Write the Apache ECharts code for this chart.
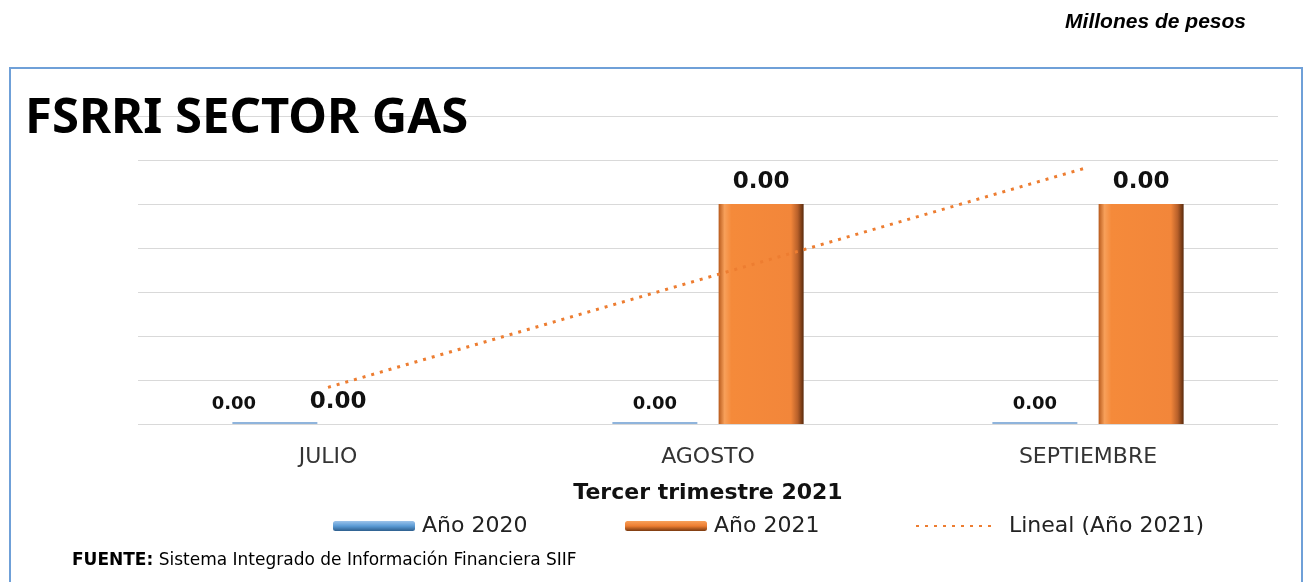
<!DOCTYPE html>
<html>
<head>
<meta charset="utf-8">
<script src="https://cdn.jsdelivr.net/npm/echarts@6/dist/echarts.min.js"></script>
<style>
  html, body { margin: 0; padding: 0; background: #fff; }
  #chart { width: 1306px; height: 582px; }
</style>
</head>
<body>
<div id="chart"></div>
<script>
  // categorias y valores (millones de pesos)
  var meses = ['JULIO', 'AGOSTO', 'SEPTIEMBRE']
  var anio2020 = [0, 0, 0]
  var anio2021 = [0, 0.004, 0.004]
  var ejeMax = 0.0056
  var ejeIntervalo = 0.0008

  // linea de tendencia lineal (minimos cuadrados) sobre Año 2021
  function tendencia(vals) {
    var n = vals.length
    var sx = 0, sy = 0, sxy = 0, sxx = 0
    for (var i = 0; i < n; i++) {
      sx += i; sy += vals[i]; sxy += i * vals[i]; sxx += i * i
    }
    var m = (n * sxy - sx * sy) / (n * sxx - sx * sx)
    var b = (sy - m * sx) / n
    var out = []
    for (var j = 0; j < n; j++) out.push(m * j + b)
    return out
  }
  var lineal2021 = tendencia(anio2021)

  // en el original las etiquetas de JULIO estan corridas a la izquierda
  function conEtiquetas(vals, corrimiento) {
    return vals.map(function(v, i) {
      if (i === 0) return { value: v, label: { offset: [corrimiento, 0] } }
      return v
    })
  }

  var barraNaranja = new echarts.graphic.LinearGradient(0, 0, 1, 0, [
    { offset: 0, color: '#B85A1C' },
    { offset: 0.07, color: '#F8A05A' },
    { offset: 0.15, color: '#F58A3A' },
    { offset: 0.85, color: '#F2863A' },
    { offset: 0.93, color: '#B8602A' },
    { offset: 1, color: '#5A2A0C' }
  ])
  var barraAzul = new echarts.graphic.LinearGradient(0, 0, 0, 1, [
    { offset: 0, color: '#9CC3EA' },
    { offset: 0.5, color: '#5B9BD5' },
    { offset: 1, color: '#2E5F8E' }
  ])
  var barraNaranjaLeyenda = new echarts.graphic.LinearGradient(0, 0, 0, 1, [
    { offset: 0, color: '#F8A05A' },
    { offset: 0.5, color: '#ED7D31' },
    { offset: 1, color: '#7A3A10' }
  ])

  var textoLeyenda = { fontSize: 22, color: '#222', fontFamily: 'DejaVu Sans', padding: [0, 0, 0, 2] }

  var chart = echarts.init(document.getElementById('chart'))
  chart.setOption({
    animation: false,
    textStyle: { fontFamily: 'DejaVu Sans' },
    graphic: [
      {
        type: 'rect',
        shape: { x: 10, y: 68, width: 1292, height: 540 },
        style: { fill: 'none', stroke: '#6FA0D8', lineWidth: 2 },
        z: 0
      },
      {
        type: 'text',
        right: 60,
        top: 12,
        style: {
          text: 'Millones de pesos',
          font: 'italic bold 21px "Liberation Sans"',
          fill: '#000'
        }
      },
      {
        type: 'text',
        left: 25,
        top: 95,
        z: 10,
        style: {
          text: 'FSRRI SECTOR GAS',
          font: 'bold 49px "Noto Sans"',
          fill: '#000'
        }
      },
      {
        type: 'text',
        left: 72,
        top: 552,
        style: {
          text: '{b|FUENTE:} Sistema Integrado de Información Financiera SIIF',
          font: '17px "DejaVu Sans"',
          fill: '#000',
          rich: { b: { fontWeight: 'bold', fontSize: 17, fontFamily: 'DejaVu Sans' } }
        }
      }
    ],
    grid: {
      left: 138,
      right: 28,
      top: 116,
      bottom: 158
    },
    legend: [
      {
        left: 328, top: 510, itemWidth: 82, itemHeight: 10,
        textStyle: textoLeyenda,
        data: [{ name: 'Año 2020', itemStyle: { color: barraAzul } }]
      },
      {
        left: 620, top: 510, itemWidth: 82, itemHeight: 10,
        textStyle: textoLeyenda,
        data: [{ name: 'Año 2021', itemStyle: { color: barraNaranjaLeyenda } }]
      },
      {
        left: 910, top: 510, itemWidth: 80, itemHeight: 10,
        textStyle: { fontSize: 22, color: '#222', fontFamily: 'DejaVu Sans', padding: [0, 0, 0, 8] },
        data: [{ name: 'Lineal (Año 2021)', itemStyle: { opacity: 0 } }]
      }
    ],
    xAxis: {
      type: 'category',
      data: meses,
      axisLine: { show: false },
      axisTick: { show: false },
      axisLabel: { fontSize: 22, color: '#333', margin: 22, fontFamily: 'DejaVu Sans' },
      name: 'Tercer trimestre 2021',
      nameLocation: 'middle',
      nameGap: 58,
      nameTextStyle: { fontSize: 22, fontWeight: 'bold', color: '#111', fontFamily: 'DejaVu Sans' }
    },
    yAxis: {
      type: 'value',
      min: 0,
      max: ejeMax,
      interval: ejeIntervalo,
      axisLabel: { show: false },
      axisLine: { show: false },
      axisTick: { show: false },
      splitLine: { lineStyle: { color: '#D9D9D9', width: 1 } }
    },
    series: [
      {
        name: 'Año 2020',
        type: 'bar',
        barWidth: 85,
        barGap: '25%',
        barMinHeight: 2,
        data: conEtiquetas(anio2020, -41),
        itemStyle: { color: '#8FB4DC' },
        label: {
          show: true,
          position: 'top',
          distance: 9,
          fontFamily: 'DejaVu Sans',
          fontWeight: 'bold',
          fontSize: 18,
          color: '#111',
          formatter: function(p) { return p.value.toFixed(2) }
        }
      },
      {
        name: 'Año 2021',
        type: 'bar',
        barWidth: 85,
        data: conEtiquetas(anio2021, -43),
        itemStyle: { color: barraNaranja },
        label: {
          show: true,
          position: 'top',
          distance: 10,
          fontFamily: 'DejaVu Sans',
          fontWeight: 'bold',
          fontSize: 23,
          color: '#111',
          formatter: function(p) { return p.value.toFixed(2) }
        }
      },
      {
        name: 'Lineal (Año 2021)',
        type: 'line',
        data: lineal2021,
        symbol: 'none',
        color: '#ED7D31',
        lineStyle: { color: '#ED7D31', width: 3, type: [3, 6] },
        z: 5
      }
    ]
  })
</script>
</body>
</html>
